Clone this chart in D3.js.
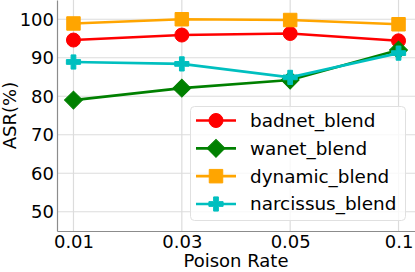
<!DOCTYPE html>
<html>
<head>
<meta charset="utf-8">
<script src="https://cdn.jsdelivr.net/npm/d3@7"></script>
<style>
  body { margin: 0; background: #fff; }
  text { font-family: "DejaVu Sans", sans-serif; fill: #000; }
</style>
</head>
<body>
<div id="chart"></div>
<script>
// categories and series
const rates = ["0.01", "0.03", "0.05", "0.1"];
const seriesNames = ["badnet_blend", "wanet_blend", "dynamic_blend", "narcissus_blend"];
const badnet = [94.6, 95.9, 96.3, 94.4];
const wanet = [79.0, 82.1, 84.2, 92.0];
const dynamic = [98.9, 100.0, 99.8, 98.7];
const narcissus = [88.9, 88.4, 84.9, 91.2];
const yTicks = [50, 60, 70, 80, 90, 100];

const colors = ["#ff0000", "#008000", "#ffa500", "#00bfbf"];
const data = [badnet, wanet, dynamic, narcissus];

let W = 415, H = 272;
let margin = { top: 0, right: 0, bottom: 41, left: 57 };

let svg = d3.select("#chart").append("svg")
    .attr("width", W)
    .attr("height", H);

//Scales
let x = d3.scalePoint()
    .domain(rates)
    .range([margin.left, W - margin.right])
    .padding(0.152);

let y = d3.scaleLinear()
    .domain([45, 105])
    .range([H - margin.bottom, margin.top]);

//Grid
let grid = svg.append("g").attr("class", "grid");
grid.selectAll()
    .data(yTicks)
    .enter()
    .append("line")
    .attr("x1", margin.left)
    .attr("x2", W - margin.right)
    .attr("y1", d => y(d))
    .attr("y2", d => y(d))
    .style("stroke", "#dcdcdc")
    .style("stroke-width", 1.2);
grid.selectAll()
    .data(rates)
    .enter()
    .append("line")
    .attr("x1", d => x(d))
    .attr("x2", d => x(d))
    .attr("y1", margin.top)
    .attr("y2", H - margin.bottom)
    .style("stroke", "#dcdcdc")
    .style("stroke-width", 1.2);

//Axes
let xAxis = svg.append("g")
    .attr("transform", "translate(0," + (H - margin.bottom) + ")")
    .call(d3.axisBottom(x).tickSize(0).tickPadding(4));
let yAxis = svg.append("g")
    .attr("transform", "translate(" + margin.left + ",0)")
    .call(d3.axisLeft(y).tickValues(yTicks).tickSize(0).tickPadding(3));

[xAxis, yAxis].forEach(a => {
    a.select(".domain").style("stroke", "#8c8c8c").style("stroke-width", 1.2);
    a.selectAll("text")
        .style("font-family", "DejaVu Sans")
        .style("font-size", "18px")
        .style("fill", "#000");
});

//Axis titles
svg.append("text")
    .attr("x", (margin.left + W - margin.right) / 2)
    .attr("y", 267)
    .attr("text-anchor", "middle")
    .style("font-size", "18px")
    .text("Poison Rate");

svg.append("text")
    .attr("transform", "translate(16," + ((H - margin.bottom + margin.top) / 2) + ") rotate(-90)")
    .attr("text-anchor", "middle")
    .style("font-size", "18px")
    .text("ASR(%)");

//Markers
const markers = [
    d3.symbol().type(d3.symbolCircle).size(154),
    d3.symbol().type(d3.symbolSquare).size(160),
    d3.symbol().type(d3.symbolSquare).size(182),
    d3.symbol().type(d3.symbolCross).size(112)
];
const rotations = [0, 45, 0, 0];

let line = d3.line()
    .x((d, i) => x(rates[i]))
    .y(d => y(d));

//Lines and points
data.forEach((vals, s) => {
    let g = svg.append("g").attr("class", "series");
    g.append("path")
        .attr("d", line(vals))
        .style("fill", "none")
        .style("stroke", colors[s])
        .style("stroke-width", 2.6);
    g.selectAll()
        .data(vals)
        .enter()
        .append("path")
        .attr("d", markers[s])
        .attr("transform", (d, i) => "translate(" + x(rates[i]) + "," + y(d) + ") rotate(" + rotations[s] + ")")
        .style("fill", colors[s])
        .style("stroke", colors[s])
        .style("stroke-width", 1);
});

//Legend
let legend = svg.append("g").attr("class", "legend");
legend.append("rect")
    .attr("x", 190.5)
    .attr("y", 106.5)
    .attr("width", 215)
    .attr("height", 114)
    .attr("rx", 4)
    .style("fill", "#fff")
    .style("fill-opacity", 0.8)
    .style("stroke", "#e0e0e0")
    .style("stroke-width", 1);

let rowY = d3.scalePoint()
    .domain(seriesNames)
    .range([120.5, 204])
    .padding(0);

seriesNames.forEach((name, s) => {
    let cy = rowY(name);
    legend.append("line")
        .attr("x1", 196)
        .attr("x2", 236)
        .attr("y1", cy)
        .attr("y2", cy)
        .style("stroke", colors[s])
        .style("stroke-width", 2.6);
    legend.append("path")
        .attr("d", markers[s])
        .attr("transform", "translate(216," + cy + ") rotate(" + rotations[s] + ")")
        .style("fill", colors[s])
        .style("stroke", colors[s])
        .style("stroke-width", 1);
    legend.append("text")
        .attr("x", 250)
        .attr("y", cy)
        .attr("dy", "0.35em")
        .style("font-size", "18.4px")
        .text(name);
});
</script>
</body>
</html>
